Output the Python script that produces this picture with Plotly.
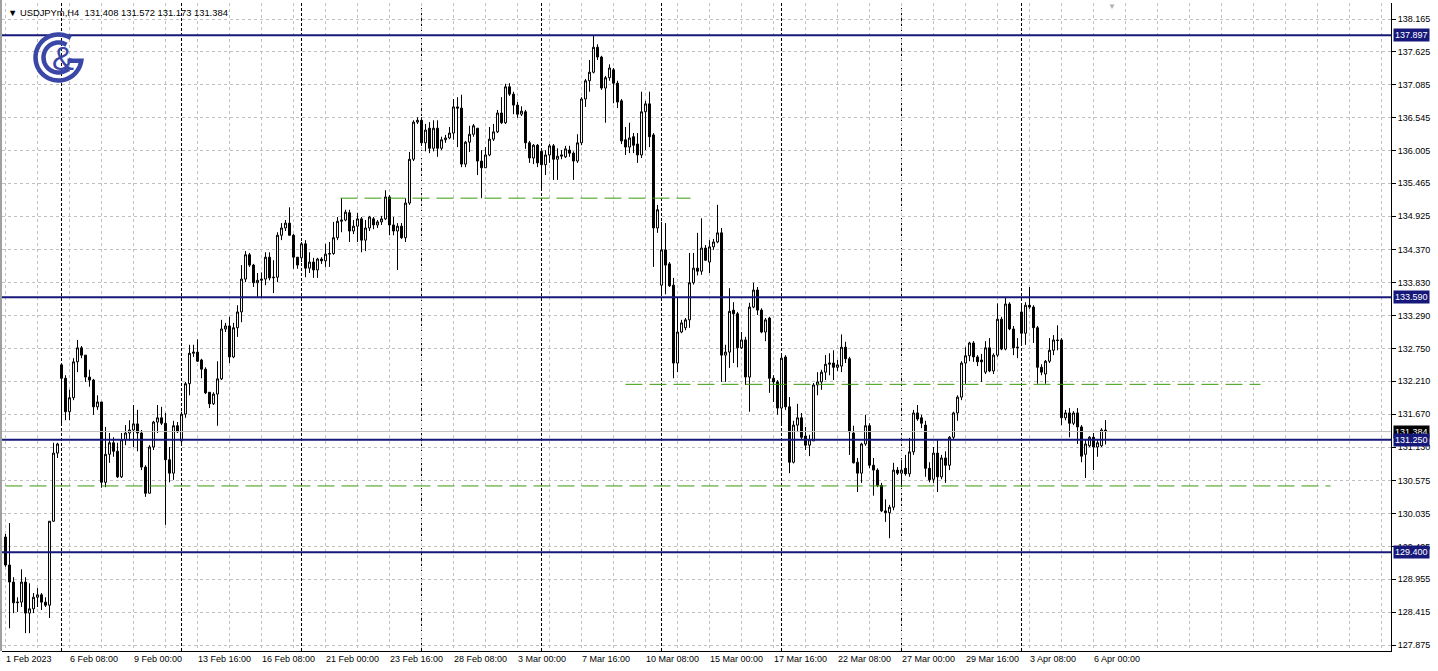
import plotly.graph_objects as go
from datetime import datetime, timedelta
import math

# ---------------- data (USDJPYm, H4) ----------------
symbol_title = "USDJPYm,H4"
header_values = ["131.408", "131.572", "131.173", "131.384"]

opens = [129.65,129.19,128.91,128.57,128.58,128.91,128.40,128.47,128.66,128.70,128.58,128.53,129.91,131.03,
 132.48,132.26,131.71,131.94,132.53,132.76,132.64,132.28,132.23,131.79,131.87,130.55,131.01,131.20,131.06,130.64,
 131.25,131.36,131.41,131.51,131.36,130.80,130.37,131.13,131.54,131.61,131.52,130.92,130.70,131.48,
 131.23,131.67,132.17,132.67,132.69,132.56,132.41,132.03,131.84,132.00,132.25,133.07,133.12,132.61,133.09,133.35,
 133.89,134.29,134.12,133.83,133.87,133.89,134.25,133.91,133.92,134.61,134.73,134.81,134.61,134.25,
 134.24,134.47,134.07,134.17,134.04,134.22,134.19,134.30,134.31,134.57,134.84,134.86,134.98,134.68,134.76,134.88,
 134.53,134.73,134.88,134.78,134.83,134.88,135.24,134.78,134.68,134.76,134.57,135.14,135.86,136.47,
 136.50,136.13,136.37,136.04,136.37,136.04,136.18,136.21,136.29,136.72,136.70,135.78,136.14,136.27,136.37,135.83,
 135.72,135.93,136.19,136.31,136.62,136.46,137.05,136.93,136.75,136.60,136.64,136.13,135.88,136.09,
 135.99,135.77,135.93,136.08,135.86,135.91,135.90,136.01,135.96,135.83,136.13,136.85,137.15,137.29,137.70,137.54,
 137.03,137.20,137.33,137.11,136.82,136.18,136.06,136.23,136.11,135.93,136.64,136.77,136.26,134.73,
 133.79,134.37,134.14,133.79,132.51,133.02,133.09,133.22,133.83,134.07,134.02,134.40,134.17,134.42,134.50,134.65,
 132.64,132.69,133.38,133.32,132.76,132.89,132.28,133.43,133.71,133.38,133.02,133.25,132.26,132.20,
 131.77,132.61,131.79,130.88,131.49,131.61,131.31,131.16,131.23,132.15,132.20,132.36,132.49,132.51,132.44,132.46,
 132.77,132.58,131.36,130.88,130.70,131.18,131.48,130.83,130.75,130.50,130.08,130.05,130.14,130.75,
 130.70,130.78,130.69,131.05,131.69,131.61,131.49,130.78,130.60,131.03,130.64,130.95,130.83,131.29,131.69,131.95,
 132.51,132.63,132.84,132.61,132.56,132.36,132.76,132.38,132.64,133.23,132.74,133.48,133.07,132.76,
 133.35,133.00,133.46,133.43,133.09,132.44,132.33,132.54,132.72,132.89,132.89,131.61,131.69,131.52,131.69,131.46,
 131.01,131.15,131.29,131.13,131.15,131.408]

highs = [129.70,129.88,128.99,128.66,129.12,128.99,128.89,128.73,128.81,128.73,128.66,129.91,131.20,131.20,
 132.51,132.31,132.07,132.59,132.89,132.79,132.64,132.40,132.25,131.98,131.87,131.46,131.36,131.29,131.20,131.36,
 131.49,131.57,131.82,131.74,131.41,130.83,131.16,131.56,131.82,131.79,131.69,131.13,131.56,131.54,
 131.71,132.20,132.81,132.81,132.90,132.58,132.44,132.03,132.03,132.54,133.22,133.17,133.27,133.17,133.46,134.12,
 134.35,134.32,134.14,133.99,134.00,134.33,134.33,134.20,134.66,134.81,134.86,135.07,134.63,134.25,
 134.50,134.53,134.33,134.24,134.24,134.25,134.47,134.50,134.83,134.91,135.22,135.03,135.03,134.86,134.98,134.91,
 134.86,134.93,134.91,134.86,134.93,135.35,135.27,134.91,134.81,134.81,135.22,135.98,136.50,136.55,
 136.55,136.44,136.47,136.50,136.50,136.23,136.26,136.39,136.85,136.88,136.92,136.16,136.41,136.44,136.37,136.01,
 136.06,136.39,136.44,136.67,136.88,137.10,137.11,136.97,136.80,136.73,136.67,136.16,136.11,136.11,
 136.03,136.01,136.11,136.11,136.04,136.01,136.08,136.08,135.99,136.27,136.88,137.18,137.49,137.885,137.75,137.56,
 137.23,137.42,137.36,137.15,136.85,136.39,136.46,136.29,136.29,136.97,136.82,136.97,136.29,135.11,
 134.83,134.81,134.17,133.91,133.595,133.22,133.25,134.32,134.32,134.65,134.89,134.45,134.53,134.55,135.11,134.73,
 132.81,133.74,133.51,133.35,133.02,132.94,133.50,133.83,133.76,133.41,133.25,133.27,132.31,132.23,
 132.63,132.64,131.95,131.56,131.84,131.69,131.46,131.33,132.18,132.36,132.40,132.64,132.67,132.72,132.56,132.98,
 132.86,132.61,131.48,130.95,131.20,131.66,131.52,130.95,130.78,130.54,130.27,130.18,130.87,130.80,
 130.92,131.00,131.28,131.74,131.82,131.66,131.56,130.88,131.13,131.24,131.00,131.06,131.31,131.71,131.98,132.54,
 132.77,132.86,132.87,132.64,132.66,132.87,132.92,132.67,133.49,133.27,133.58,133.51,133.12,132.92,
 133.46,133.51,133.76,133.46,133.12,132.49,132.56,132.92,132.97,133.13,132.92,131.74,131.77,131.72,131.77,131.49,
 131.25,131.31,131.36,131.25,131.44,131.572]

lows = [129.16,128.15,128.40,128.42,128.50,128.07,128.07,128.40,128.50,128.45,128.50,128.32,129.90,130.95,
 131.49,131.57,131.57,131.90,132.36,132.59,132.20,132.12,131.66,131.74,130.46,130.47,130.87,130.97,130.62,130.62,
 131.16,131.23,131.13,131.06,130.75,130.31,130.37,131.08,131.36,131.49,129.85,130.55,130.59,131.36,
 131.18,131.61,131.98,132.61,132.53,132.26,132.00,131.77,131.82,131.48,132.23,133.02,132.51,132.59,132.94,133.18,
 133.84,134.09,133.76,133.60,133.58,133.79,133.87,133.66,133.84,134.53,134.68,134.61,134.06,134.06,
 134.17,133.92,133.99,133.91,133.91,134.14,134.09,134.09,134.29,134.53,134.66,134.84,134.50,134.63,134.50,134.33,
 134.35,134.68,134.71,134.73,134.78,134.86,134.61,134.61,134.04,134.55,134.50,135.11,135.83,136.44,
 136.11,135.99,135.96,135.99,135.90,136.01,136.13,136.19,136.18,136.06,135.73,135.73,135.98,136.23,135.60,135.22,
 135.72,135.91,136.16,136.29,136.44,136.44,136.90,136.60,136.54,136.57,136.03,135.80,135.78,135.73,
 135.35,135.60,135.80,135.52,135.52,135.86,135.88,135.90,135.52,135.80,136.09,136.72,136.97,137.27,137.49,137.00,
 136.46,137.15,136.78,136.70,136.11,135.93,135.96,135.96,135.80,135.88,136.01,136.06,134.09,134.65,
 133.66,133.64,133.76,132.26,132.36,133.00,133.05,133.09,133.80,133.95,133.96,134.19,133.99,134.37,134.48,132.20,
 132.20,132.43,132.51,132.44,132.74,132.15,131.71,133.41,133.30,133.00,132.87,132.02,131.87,131.66,
 131.52,131.74,130.70,130.86,131.38,131.26,131.08,130.98,131.23,131.98,132.07,132.23,132.31,132.23,132.38,132.36,
 132.51,131.00,130.86,130.39,130.54,131.15,130.78,130.33,130.47,130.06,129.90,129.63,130.09,130.67,
 130.47,130.66,130.64,131.00,131.56,131.44,130.64,130.55,130.54,130.39,130.60,130.54,130.75,131.26,131.56,131.90,
 132.17,132.54,132.53,132.46,132.20,132.33,132.36,132.33,132.61,132.72,132.72,133.05,132.64,132.59,
 132.84,132.81,133.40,132.84,132.17,132.31,132.17,132.51,132.64,132.72,131.49,131.57,131.29,131.49,131.18,130.88,
 130.62,131.13,130.75,130.97,131.13,131.173]

closes = [129.19,128.91,128.57,128.58,128.91,128.40,128.47,128.66,128.70,128.58,128.53,129.91,131.03,131.18,
 132.26,131.71,131.94,132.53,132.76,132.64,132.28,132.23,131.79,131.87,130.55,131.01,131.20,131.06,130.64,131.25,
 131.36,131.41,131.51,131.36,130.80,130.37,131.13,131.54,131.61,131.52,130.92,130.70,131.48,131.38,
 131.67,132.17,132.67,132.69,132.54,132.41,132.02,131.84,132.00,132.25,133.07,133.12,132.61,133.09,133.35,133.89,
 134.29,134.12,133.83,133.87,133.89,134.25,133.91,133.92,134.61,134.73,134.81,134.61,134.25,134.12,
 134.47,134.07,134.17,134.04,134.22,134.19,134.30,134.31,134.57,134.84,134.86,134.99,134.68,134.76,134.88,134.53,
 134.73,134.91,134.78,134.83,134.88,135.24,134.78,134.68,134.76,134.57,135.14,135.86,136.47,136.50,
 136.13,136.34,136.04,136.37,136.04,136.18,136.21,136.29,136.72,136.70,135.78,136.14,136.27,136.41,135.83,135.72,
 135.93,136.19,136.31,136.62,136.46,137.05,136.93,136.75,136.60,136.65,136.13,135.88,136.09,135.80,
 135.77,135.93,136.08,135.86,135.91,135.93,136.03,135.96,135.83,136.13,136.85,137.15,137.29,137.70,137.54,137.03,
 137.20,137.36,137.11,136.80,136.16,136.06,136.21,136.09,135.93,136.64,136.77,136.23,134.73,135.03,
 134.37,134.12,133.78,132.51,133.02,133.17,133.22,133.83,134.07,134.02,134.40,134.20,134.42,134.50,134.65,132.64,
 132.69,133.36,133.32,132.76,132.89,132.28,133.43,133.71,133.38,133.02,133.22,132.26,132.20,131.77,
 132.59,131.79,130.88,131.49,131.61,131.29,131.16,131.25,132.15,132.20,132.36,132.49,132.51,132.44,132.48,132.77,
 132.58,131.38,130.87,130.70,131.18,131.48,130.83,130.75,130.50,130.08,130.05,130.14,130.75,130.70,
 130.75,130.69,131.05,131.69,131.59,131.52,130.78,130.59,131.03,130.64,130.95,130.83,131.29,131.69,131.95,132.51,
 132.63,132.84,132.61,132.53,132.53,132.76,132.38,132.64,133.23,132.74,133.48,133.07,132.76,132.77,
 133.00,133.46,133.43,133.09,132.44,132.36,132.54,132.72,132.89,132.88,131.61,131.69,131.52,131.69,131.46,130.98,
 131.18,131.29,131.13,131.20,131.41,131.384]

# price-scale labels of the right axis
price_ticks = [138.165, 137.625, 137.085, 136.545, 136.005, 135.465, 134.925, 134.370, 133.830,
               133.290, 132.750, 132.210, 131.670, 131.130, 130.575, 130.035, 129.495, 128.955,
               128.415, 127.875]

# time-scale labels (one every 16 bars)
time_labels = ["1 Feb 2023", "6 Feb 08:00", "9 Feb 00:00", "13 Feb 16:00", "16 Feb 08:00",
               "21 Feb 00:00", "23 Feb 16:00", "28 Feb 08:00", "3 Mar 00:00", "7 Mar 16:00",
               "10 Mar 08:00", "15 Mar 00:00", "17 Mar 16:00", "22 Mar 08:00", "27 Mar 00:00",
               "29 Mar 16:00", "3 Apr 08:00", "6 Apr 00:00"]
label_step = 16

# horizontal levels
navy_levels = [137.897, 133.590, 131.250, 129.400]
bid_price = 131.384
green_levels = [135.22, 132.16, 130.49]
green_from_bar = [83.75, 155.0, 0.0]
green_to_bar = [171.25, 313.75, 331.25]

# ---------------- geometry / style ----------------
W, H = 1438, 671
PL, PR, PT, PB = 2, 1391, 3, 651          # plot area in pixels
BAR0_PX, BAR_PX = 5.5, 4                   # first bar centre, bar spacing
P_TOP, P_BOT = 138.428, 127.777            # price range shown
NAVY = "#16197a"
GREEN = "#3a9a0a"
GRID = "#c0c0c0"
LOGO = "#3b47a6"
FONT = "Liberation Sans, Arial, sans-serif"

n = len(closes)
idx = list(range(n))

# bar times: H4 bars from 1 Feb 2023 16:00, weekdays only
times = []
t = datetime(2023, 2, 1, 16)
while len(times) < 350:
    if t.weekday() < 5:
        times.append(t)
    t += timedelta(hours=4)

x_min = (PL - BAR0_PX) / BAR_PX
x_max = (PR - BAR0_PX) / BAR_PX


def pxx(x):
    return (x - PL) / (PR - PL)


def pxy(y):
    return (PB - y) / (PB - PT)


fig = go.Figure()
fig.add_trace(go.Candlestick(
    x=idx, open=opens, high=highs, low=lows, close=closes,
    increasing=dict(line=dict(color="black", width=1), fillcolor="white"),
    decreasing=dict(line=dict(color="black", width=1), fillcolor="black"),
    whiskerwidth=0, hoverinfo="skip", showlegend=False,
))

shapes = []
# weekly period separators (Monday 00:00 bars with data)
for i, tt in enumerate(times[:n]):
    if tt.weekday() == 0 and tt.hour == 0:
        shapes.append(dict(type="line", xref="x", yref="paper", x0=i, x1=i, y0=0, y1=1,
                           line=dict(color="black", width=1, dash="3px,2px"), layer="below"))

# bid line
shapes.append(dict(type="line", xref="paper", yref="y", x0=0, x1=1, y0=bid_price, y1=bid_price,
                   line=dict(color=GRID, width=1), layer="above"))
# green dashed levels
for lv, a, b in zip(green_levels, green_from_bar, green_to_bar):
    shapes.append(dict(type="line", xref="x", yref="y", x0=a, x1=b, y0=lv, y1=lv,
                       line=dict(color=GREEN, width=1, dash="17px,7px"), layer="above"))
# navy levels
for lv in navy_levels:
    shapes.append(dict(type="line", xref="paper", yref="y", x0=0, x1=1, y0=lv, y1=lv,
                       line=dict(color=NAVY, width=2), layer="above"))

# left window border
shapes.append(dict(type="line", xref="paper", yref="paper", x0=pxx(1), x1=pxx(1), y0=pxy(0), y1=0,
                   line=dict(color="#404040", width=1)))


# logo (two rings, G bar)
def arc_path(cx, cy, r, a0, a1, extra=None):
    pts = []
    steps = 60
    for k in range(steps + 1):
        a = math.radians(a0 + (a1 - a0) * k / steps)
        pts.append((cx + r * math.cos(a), cy - r * math.sin(a)))
    if extra:
        pts += extra
    return "M " + " L ".join(f"{pxx(x):.5f},{pxy(y):.5f}" for x, y in pts)


cx, cy = 58.5, 57.5
shapes.append(dict(type="path", xref="paper", yref="paper",
                   path=arc_path(cx, cy, 23.0, 58, 352, extra=[(67.5, 60.7)]),
                   line=dict(color=LOGO, width=4.5)))
shapes.append(dict(type="path", xref="paper", yref="paper",
                   path=arc_path(cx, cy, 15.0, 58, 312),
                   line=dict(color=LOGO, width=4.5)))

annotations = []
annotations.append(dict(xref="paper", yref="paper", x=pxx(63), y=pxy(58), text="&amp;",
                        showarrow=False, font=dict(family=FONT, size=33, color=LOGO),
                        xanchor="center", yanchor="middle"))

# header
annotations.append(dict(xref="paper", yref="paper", x=pxx(6), y=pxy(13),
                        text="▼ " + symbol_title + "  " + " ".join(header_values),
                        showarrow=False, font=dict(family=FONT, size=9.4, color="black"),
                        xanchor="left", yanchor="middle"))
# chart-shift marker
annotations.append(dict(xref="paper", yref="paper", x=pxx(1112), y=pxy(6), text="▼",
                        showarrow=False, font=dict(family=FONT, size=8, color="#b0b0b0"),
                        xanchor="center", yanchor="middle"))

# time labels
for k, lab in enumerate(time_labels):
    annotations.append(dict(xref="x", yref="paper", x=k * label_step, y=pxy(659), text=lab,
                            showarrow=False, font=dict(family=FONT, size=9, color="black"),
                            xanchor="left", yanchor="middle", xshift=-2))

# price boxes on the axis
annotations.append(dict(xref="paper", yref="y", x=1, y=bid_price, text=f"{bid_price:.3f}",
                        showarrow=False, font=dict(family=FONT, size=9, color="white"),
                        bgcolor="black", borderpad=1, xanchor="left", yanchor="middle", xshift=2))
for lv in navy_levels:
    annotations.append(dict(xref="paper", yref="y", x=1, y=lv, text=f"{lv:.3f}",
                            showarrow=False, font=dict(family=FONT, size=9, color="white"),
                            bgcolor=NAVY, borderpad=1, xanchor="left", yanchor="middle", xshift=2))

fig.update_layout(
    width=W, height=H, autosize=False,
    margin=dict(l=PL, r=W - PR, t=PT, b=H - PB, pad=0),
    paper_bgcolor="white", plot_bgcolor="white",
    showlegend=False, hovermode=False,
    shapes=shapes, annotations=annotations,
    xaxis=dict(range=[x_min, x_max], rangeslider=dict(visible=False),
               tickmode="linear", tick0=0, dtick=8, showticklabels=False, ticks="",
               showgrid=True, gridcolor=GRID, griddash="3px,3px", gridwidth=1,
               zeroline=False, showline=True, linecolor="black", linewidth=1, fixedrange=True),
    yaxis=dict(range=[P_BOT, P_TOP], side="right",
               tickmode="array", tickvals=price_ticks, ticktext=[f"{v:.3f}" for v in price_ticks],
               ticks="outside", ticklen=4, tickwidth=1, tickcolor="black",
               tickfont=dict(family=FONT, size=9, color="black"),
               showgrid=True, gridcolor=GRID, griddash="3px,3px", gridwidth=1,
               zeroline=False, showline=True, linecolor="black", linewidth=1, fixedrange=True),
)

fig.write_html("out.html", config={"displayModeBar": False},
               post_script="document.body.style.margin='0';document.body.style.overflow='hidden';")
